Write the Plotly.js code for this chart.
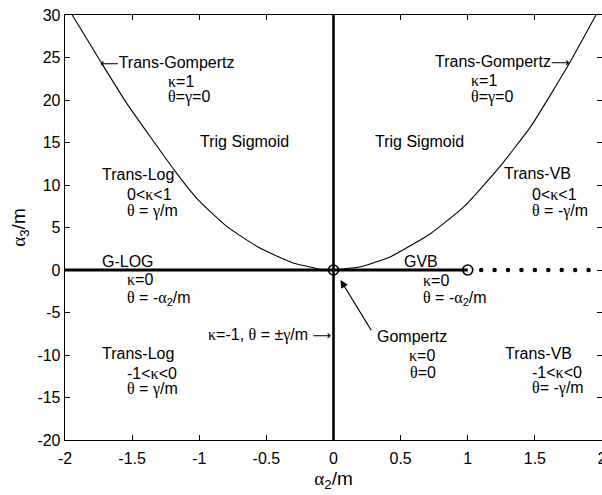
<!DOCTYPE html>
<html><head><meta charset="utf-8">
<script src="https://cdn.plot.ly/plotly-3.0.1.min.js"></script>
<style>html,body{margin:0;padding:0;background:#fff}#chart{width:602px;height:495px}</style>
</head><body><div id="chart"></div>
<script>
// Boundary curve (kappa = 1, Trans-Gompertz)
const leftCurveX = [-1.946, -1.726, -1.54, -1.366, -1.179, -1.017, -0.793, -0.545, -0.296, -0.149, -0.08, 0];
const leftCurveY = [30, 24.3, 19.6, 15.7, 11.6, 8.4, 5.1, 2.55, 0.79, 0.27, 0.05, 0];
const rightCurveX = [0, 0.05, 0.2, 0.425, 0.724, 0.972, 1.22, 1.47, 1.756, 1.955];
const rightCurveY = [0, 0.08, 0.39, 1.57, 4.3, 7.45, 11.8, 16.9, 24.3, 30];
// kappa = 0 thick segment and kappa = -1 vertical line
const zeroLineX = [-2, 1];
const zeroLineY = [0, 0];
const vertLineX = [0, 0];
const vertLineY = [-20, 30];
// special points
const circleX = [0, 1];
const circleY = [0, 0];
const dotsX = [1.1, 1.2, 1.3, 1.4, 1.5, 1.6, 1.7, 1.8, 1.9];
const dotsY = [0, 0, 0, 0, 0, 0, 0, 0, 0];
// tick labels
const xTicks = [-2, -1.5, -1, -0.5, 0, 0.5, 1, 1.5, 2];
const yTicks = [-20, -15, -10, -5, 0, 5, 10, 15, 20, 25, 30];

// Greek letters drawn in a serif face, as in the reference
const G = c => '<span style="font-family:\'Liberation Serif\',\'DejaVu Serif\',serif">' + c + '</span>';
const K = G('\u03ba'), TH = G('\u03b8'), GA = G('\u03b3'), AL = G('\u03b1');
const LA = '<span style="font-family:\'DejaVu Sans\';font-size:13px">\u27f5</span>';
const RA = '<span style="font-family:\'DejaVu Sans\';font-size:13px">\u27f6</span>';

// region labels: [text, x, y, anchor]
const labels = [
  [LA + 'Trans-Gompertz', -1.233, 24.4, 'center'],
  [K + '=1', -1.251, 22.2, 'left'],
  [TH + '=' + GA + '=0', -1.251, 20.3, 'left'],
  ['Trig Sigmoid', -0.664, 15.1, 'center'],
  ['Trans-Log', -1.741, 11.2, 'left'],
  ['0<' + K + '<1', -1.55, 8.9, 'left'],
  [TH + ' = ' + GA + '/m', -1.55, 7.0, 'left'],
  ['G-LOG', -1.741, 1.0, 'left'],
  [K + '=0', -1.55, -1.1, 'left'],
  [TH + ' = -' + AL + '<sub>2</sub>/m', -1.55, -3.3, 'left'],
  [K + '=-1, ' + TH + ' = \u00b1' + GA + '/m ' + RA, -0.005, -7.6, 'right'],
  ['Trans-Log', -1.741, -9.8, 'left'],
  ['-1<' + K + '<0', -1.55, -12.15, 'left'],
  [TH + ' = ' + GA + '/m', -1.55, -14.0, 'left'],
  ['Trans-Gompertz' + RA, 1.26, 24.5, 'center'],
  [K + '=1', 1.008, 22.3, 'left'],
  [TH + '=' + GA + '=0', 1.008, 20.3, 'left'],
  ['Trig Sigmoid', 0.637, 15.1, 'center'],
  ['Trans-VB', 1.257, 11.3, 'left'],
  ['0<' + K + '<1', 1.462, 8.9, 'left'],
  [TH + ' = -' + GA + '/m', 1.462, 7.0, 'left'],
  ['GVB', 0.512, 1.0, 'left'],
  [K + '=0', 0.653, -1.2, 'left'],
  [TH + ' = -' + AL + '<sub>2</sub>/m', 0.653, -3.3, 'left'],
  ['Gompertz', 0.308, -7.85, 'left'],
  [K + '=0', 0.544, -10.0, 'left'],
  [TH + '=0', 0.553, -12.1, 'left'],
  ['Trans-VB', 1.264, -9.8, 'left'],
  ['-1<' + K + '<0', 1.462, -12.1, 'left'],
  [TH + '= -' + GA + '/m', 1.462, -13.9, 'left']
];
// Gompertz pointer arrow: [headX, headY, tailX, tailY]
const gompArrow = [0.052, -1.18, 0.288, -7.26];

const font = {family: 'Liberation Sans, Arial, Helvetica, sans-serif', size: 16, color: '#000'};
const titleFont = {family: 'Liberation Sans, Arial, Helvetica, sans-serif', size: 19, color: '#000'};

const traces = [
  {x: leftCurveX, y: leftCurveY, mode: 'lines', line: {color: '#000', width: 1.1, shape: 'spline', smoothing: 0.5}, hoverinfo: 'skip'},
  {x: rightCurveX, y: rightCurveY, mode: 'lines', line: {color: '#000', width: 1.1, shape: 'spline', smoothing: 0.5}, hoverinfo: 'skip'},
  {x: zeroLineX, y: zeroLineY, mode: 'lines', line: {color: '#000', width: 3.2}, hoverinfo: 'skip'},
  {x: vertLineX, y: vertLineY, mode: 'lines', line: {color: '#000', width: 2.6}, hoverinfo: 'skip'},
  {x: dotsX, y: dotsY, mode: 'markers', marker: {color: '#000', size: 4.5}, hoverinfo: 'skip'},
  {x: circleX, y: circleY, mode: 'markers', marker: {symbol: 'circle-open', color: '#000', size: 10, line: {width: 1.6, color: '#000'}}, hoverinfo: 'skip'}
];

const annotations = labels.map(l => ({
  text: l[0], x: l[1], y: l[2], xref: 'x', yref: 'y', xanchor: l[3], yanchor: 'middle',
  showarrow: false, font: font
}));
annotations.push({
  x: gompArrow[0], y: gompArrow[1], ax: gompArrow[2], ay: gompArrow[3],
  xref: 'x', yref: 'y', axref: 'x', ayref: 'y', text: '', showarrow: true,
  arrowhead: 2, arrowsize: 1.3, arrowwidth: 1.2, arrowcolor: '#000'
});

const axisCommon = {
  showgrid: false, zeroline: false, showline: true, linecolor: '#000', linewidth: 1.3,
  mirror: 'ticks', ticks: 'inside', ticklen: 5, tickwidth: 1, tickcolor: '#000',
  tickfont: font, ticklabeloverflow: 'allow'
};

const layout = {
  width: 602, height: 495,
  margin: {l: 65, r: 0, t: 15, b: 55},
  paper_bgcolor: '#fff', plot_bgcolor: '#fff',
  showlegend: false,
  font: font,
  xaxis: Object.assign({}, axisCommon, {
    range: [-2, 2], tickvals: xTicks, ticktext: xTicks.map(String), ticklabelstandoff: 3,
    title: {text: AL + '<sub>2</sub>/m', font: titleFont, standoff: 6}
  }),
  yaxis: Object.assign({}, axisCommon, {
    range: [-20, 30], tickvals: yTicks, ticktext: yTicks.map(String),
    title: {text: AL + '<sub>3</sub>/m', font: titleFont, standoff: 6}
  }),
  annotations: annotations
};

Plotly.newPlot('chart', traces, layout, {staticPlot: true, displayModeBar: false});
</script></body></html>
